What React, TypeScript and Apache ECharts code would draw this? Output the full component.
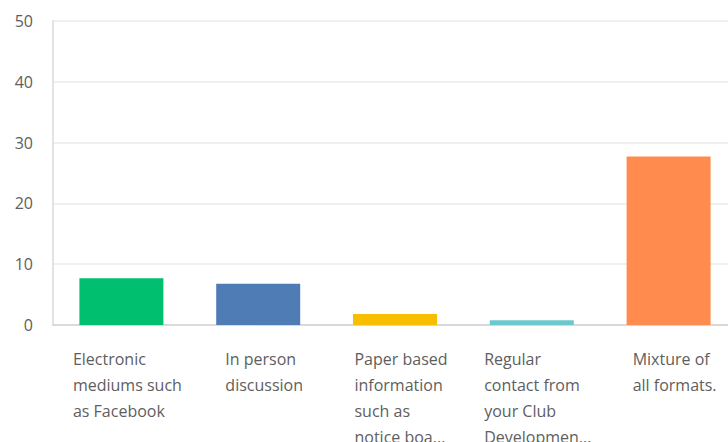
import React, { useEffect, useRef } from "react";
import * as echarts from "echarts";

const categories = [
  "Electronic mediums such as Facebook",
  "In person discussion",
  "Paper based information such as notice boa...",
  "Regular contact from your Club Developmen...",
  "Mixture of all formats.",
];
const labelLines = [
  ["Electronic", "mediums such", "as Facebook"],
  ["In person", "discussion"],
  ["Paper based", "information", "such as", "notice boa..."],
  ["Regular", "contact from", "your Club", "Developmen..."],
  ["Mixture of", "all formats."],
];
const values = [7.7, 6.8, 1.8, 0.8, 27.7];
const colors = ["#00bf6f", "#507cb6", "#f9be00", "#6bc8cd", "#ff8b4f"];
const yTicks = [0, 10, 20, 30, 40, 50];

const FONT = '"Open Sans", sans-serif';
const TEXT_COLOR = "#5e5e5e";

export default function App() {
  const ref = useRef<HTMLDivElement>(null);
  useEffect(() => {
    if (!ref.current) return;
    const chart = echarts.init(ref.current, null, { renderer: "svg" });
    chart.setOption({
      animation: false,
      grid: { left: 53, right: 8, top: 21, bottom: 117 },
      xAxis: {
        type: "category",
        data: categories,
        axisLine: { show: true, lineStyle: { color: "#d2d2d2", width: 1.5 } },
        axisTick: { show: false },
        axisLabel: { show: false },
      },
      yAxis: {
        type: "value",
        min: yTicks[0],
        max: yTicks[yTicks.length - 1],
        interval: 10,
        axisLine: { show: true, lineStyle: { color: "#dadada", width: 1.5 } },
        axisTick: { show: false },
        axisLabel: {
          margin: 20,
          color: TEXT_COLOR,
          fontSize: 16,
          fontFamily: FONT,
        },
        splitLine: { lineStyle: { color: "#ebebeb", width: 1.5 } },
      },
      series: [
        {
          type: "bar",
          barWidth: "61.4%",
          data: values.map((v, i) => ({ value: v, itemStyle: { color: colors[i] } })),
        },
      ],
    });

    const canvas = document.createElement("canvas");
    const ctx = canvas.getContext("2d")!;
    ctx.font = `16px ${FONT}`;
    const baseY = chart.convertToPixel({ yAxisIndex: 0 }, 0) as number;
    const graphics = labelLines.map((lines, i) => {
      const cx = chart.convertToPixel({ xAxisIndex: 0 }, categories[i]) as number;
      const w = Math.max(...lines.map((l) => ctx.measureText(l).width));
      return {
        type: "text",
        x: cx - w / 2 + 6,
        y: baseY + 21,
        style: {
          text: lines.join("\n"),
          fill: TEXT_COLOR,
          font: `16px ${FONT}`,
          lineHeight: 26,
          textAlign: "left",
          textVerticalAlign: "top",
        },
      };
    });
    chart.setOption({ graphic: graphics });
    return () => chart.dispose();
  }, []);
  return (
    <div style={{ position: "fixed", left: 0, top: 0, width: 728, height: 442, overflow: "hidden", background: "#fff" }}>
      <div ref={ref} style={{ width: 745, height: 442 }} />
    </div>
  );
}
